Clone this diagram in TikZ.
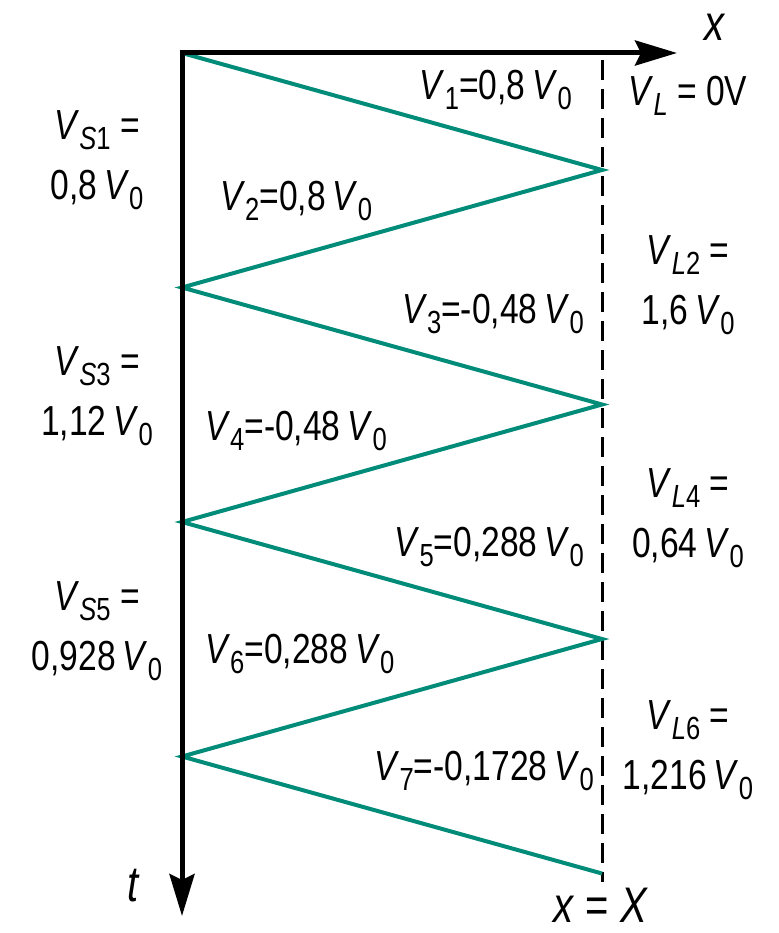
\documentclass[tikz,border=0pt]{standalone}
\usepackage{fontspec}
\setmainfont[FakeStretch=0.8]{Liberation Sans}
\usetikzlibrary{arrows.meta,positioning}

\definecolor{wavegreen}{RGB}{0,140,120}
\newcommand{\vsym}[2]{\textit{#1}\raisebox{-10pt}{\fontsize{32}{32}\selectfont #2}}

\begin{document}
\begin{tikzpicture}[x=1pt,y=-1pt,
    axis/.style={line width=5pt,-{Stealth[length=42pt,width=25pt,inset=6pt]}},
    wave/.style={line width=4pt,wavegreen},
    lbl/.style={font=\fontsize{42}{60}\selectfont,inner sep=0pt,align=center},
    big/.style={font=\fontsize{50}{60}\selectfont,inner sep=0pt}]
  \useasboundingbox (0,0) rectangle (778,933);

  % corners of the zig-zag
  \foreach \i in {0,...,3}{
    \coordinate (s\i) at (182,{53+234.5*\i});
    \coordinate (l\i) at (602,{170+234.5*\i});
  }
  \coordinate (xend) at (677,53);
  \coordinate (tend) at (182,916);
  \coordinate (dtop) at (602,60);
  \coordinate (dbot) at (602,882);

  % load line
  \draw[line width=3pt,dash pattern=on 20pt off 9pt] (dtop) -- (dbot);

  % waves
  \draw[wave,line join=miter] (s0) -- (l0) -- (s1) -- (l1) -- (s2) -- (l2) -- (s3) -- (l3);

  % axes
  \draw[axis] (179.5,53) -- (xend);
  \draw[axis] (s0) -- (tend);

  \node[big] (xlab) at (715,27) {\textit{x}};
  \node[big] (tlab) at (134,886) {\textit{t}};
  \node[big] (xX) at (601,905) {\textit{x} = \textit{X}};

  % wave labels
  \node[lbl,anchor=east] (v1) at (572,90) {\vsym{V}{1}=0,8\,\vsym{V}{0}};
  \node[lbl,anchor=west] (v2) at (220,201) {\vsym{V}{2}=0,8\,\vsym{V}{0}};
  \node[lbl,anchor=east] (v3) at (584,314) {\vsym{V}{3}=-0,48\,\vsym{V}{0}};
  \node[lbl,anchor=west] (v4) at (205,431) {\vsym{V}{4}=-0,48\,\vsym{V}{0}};
  \node[lbl,anchor=east] (v5) at (584,547) {\vsym{V}{5}=0,288\,\vsym{V}{0}};
  \node[lbl,anchor=west] (v6) at (205,654) {\vsym{V}{6}=0,288\,\vsym{V}{0}};
  \node[lbl,anchor=east] (v7) at (594,771) {\vsym{V}{7}=-0,1728\,\vsym{V}{0}};

  % source side
  \node[lbl] (vs1) at (97,160) {\vsym{V}{\textit{S}1} =\\0,8\,\vsym{V}{0}};
  \node[lbl] (vs3) at (97,396) {\vsym{V}{\textit{S}3} =\\1,12\,\vsym{V}{0}};
  \node[lbl] (vs5) at (97,631) {\vsym{V}{\textit{S}5} =\\0,928\,\vsym{V}{0}};

  % load side
  \node[lbl] (vl) at (688,96) {\vsym{V}{\textit{L}} = 0V};
  \node[lbl] (vl2) at (688,285) {\vsym{V}{\textit{L}2} =\\1,6\,\vsym{V}{0}};
  \node[lbl] (vl4) at (688,518) {\vsym{V}{\textit{L}4} =\\0,64\,\vsym{V}{0}};
  \node[lbl] (vl6) at (688,750) {\vsym{V}{\textit{L}6} =\\1,216\,\vsym{V}{0}};
\end{tikzpicture}
\end{document}
